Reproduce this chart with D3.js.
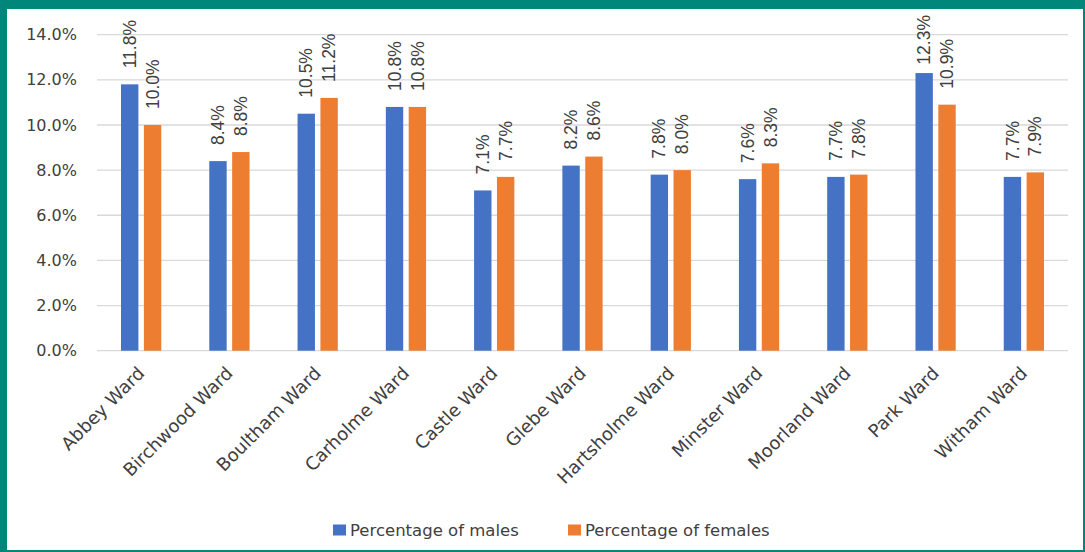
<!DOCTYPE html>
<html>
<head>
<meta charset="utf-8">
<script src="https://cdn.jsdelivr.net/npm/d3@7"></script>
<style>
  body { margin: 0; background: #00867a; }
  svg { display: block; }
</style>
</head>
<body>
<svg width="1085" height="552"></svg>
<script>
// ward names + values
var wards = ["Abbey Ward", "Birchwood Ward", "Boultham Ward", "Carholme Ward", "Castle Ward",
  "Glebe Ward", "Hartsholme Ward", "Minster Ward", "Moorland Ward", "Park Ward", "Witham Ward"]
var males = [11.8, 8.4, 10.5, 10.8, 7.1, 8.2, 7.8, 7.6, 7.7, 12.3, 7.7]
var females = [10.0, 8.8, 11.2, 10.8, 7.7, 8.6, 8.0, 8.3, 7.8, 10.9, 7.9]
var seriesNames = ["Percentage of males", "Percentage of females"]
var yTicks = [0, 2, 4, 6, 8, 10, 12, 14]

var colors = ["#4472c4", "#ed7d31"]
var axisFont = "'DejaVu Sans', Verdana, sans-serif"

var svg = d3.select("svg")

// teal frame, white card inside
svg.append("rect")
    .attr("x", 7).attr("y", 9)
    .attr("width", 1076).attr("height", 541)
    .attr("fill", "#fff")

var x0 = d3.scaleBand()
    .domain(wards)
    .range([97, 1068])

var x1 = d3.scaleBand()
    .domain([0, 1])
    .range([0, x0.bandwidth()])
    .paddingInner(0.24)
    .paddingOuter(1.05)

var y = d3.scaleLinear()
    .domain([0, 14])
    .range([350.7, 34.7])

// gridlines
svg.append("g")
  .selectAll("line")
  .data(yTicks)
  .enter().append("line")
    .attr("x1", 97).attr("x2", 1068)
    .attr("y1", function(d) { return y(d) })
    .attr("y2", function(d) { return y(d) })
    .attr("stroke", "#d9d9d9")
    .attr("stroke-width", 1.3)

// y tick labels
svg.append("g")
  .selectAll("text")
  .data(yTicks)
  .enter().append("text")
    .attr("x", 77)
    .attr("y", function(d) { return y(d) })
    .attr("dy", "0.35em")
    .attr("text-anchor", "end")
    .style("font-size", "16px")
    .style("font-family", axisFont)
    .style("fill", "#404040")
    .text(function(d) { return d.toFixed(1) + "%" })

var rows = wards.map(function(w, i) { return { ward: w, vals: [males[i], females[i]] } })

var groups = svg.append("g")
  .selectAll("g")
  .data(rows)
  .enter().append("g")
    .attr("transform", function(d) { return "translate(" + x0(d.ward) + ",0)" })

groups.selectAll("rect")
  .data(function(d) { return d.vals })
  .enter().append("rect")
    .attr("x", function(d, i) { return x1(i) })
    .attr("width", x1.bandwidth())
    .attr("y", function(d) { return y(d) })
    .attr("height", function(d) { return y(0) - y(d) })
    .attr("fill", function(d, i) { return colors[i] })

// rotated value labels above each bar
// (kept inside the card like Excel does, so the tallest one gets pushed down)
groups.selectAll("text")
  .data(function(d) { return d.vals })
  .enter().append("text")
    .attr("dy", "0.35em")
    .style("font", "17.5px 'Liberation Sans', Arial, sans-serif")
    .style("fill", "#404040")
    .text(function(d) { return d.toFixed(1) + "%" })
    .attr("transform", function(d, i) {
      var len = this.getComputedTextLength()
      var base = Math.max(y(d) - 16, 15 + len)
      return "translate(" + (x1(i) + x1.bandwidth() / 2) + "," + base + ") rotate(-90)"
    })

// category labels at 45 degrees
svg.append("g")
  .selectAll("text")
  .data(wards)
  .enter().append("text")
    .attr("transform", function(d) {
      return "translate(" + (x0(d) + x0.bandwidth() / 2) + "," + 370 + ") rotate(-45)"
    })
    .attr("text-anchor", "end")
    .attr("dy", "0.35em")
    .style("font-size", "18px")
    .style("font-family", axisFont)
    .style("fill", "#404040")
    .text(function(d) { return d })

// legend
var legend = svg.append("g")
  .selectAll("g")
  .data(seriesNames)
  .enter().append("g")
    .attr("transform", function(d, i) { return "translate(" + (333 + i * 235) + ",530)" })

legend.append("rect")
    .attr("y", -5.5)
    .attr("width", 13).attr("height", 11)
    .attr("fill", function(d, i) { return colors[i] })

legend.append("text")
    .attr("x", 17)
    .attr("dy", "0.35em")
    .style("font-size", "16.5px")
    .style("font-family", axisFont)
    .style("fill", "#404040")
    .text(function(d) { return d })
</script>
</body>
</html>
